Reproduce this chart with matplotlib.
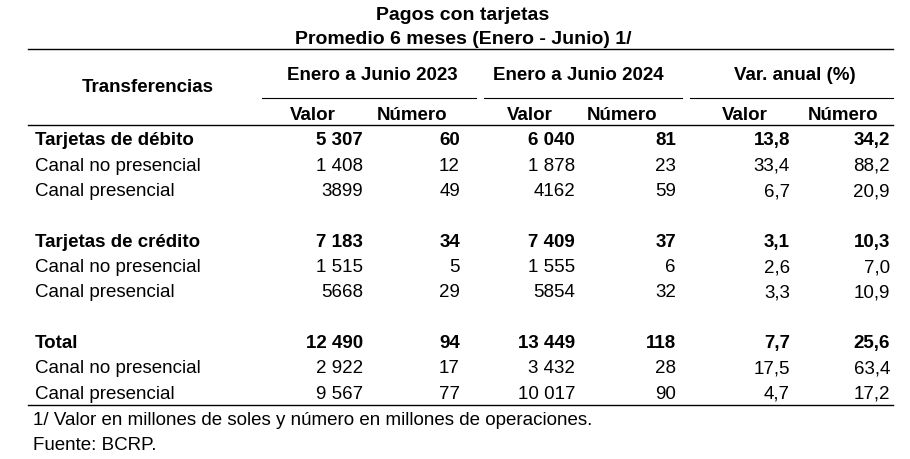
import matplotlib
matplotlib.use("Agg")
import matplotlib.pyplot as plt

title = ["Pagos con tarjetas", "Promedio 6 meses (Enero - Junio) 1/"]
groups = ["Enero a Junio 2023", "Enero a Junio 2024", "Var. anual (%)"]
subheads = ["Valor", "Número", "Valor", "Número", "Valor", "Número"]
rows = [
    ("Tarjetas de débito", ["5 307", "60", "6 040", "81", "13,8", "34,2"], True),
    ("Canal no presencial", ["1 408", "12", "1 878", "23", "33,4", "88,2"], False),
    ("Canal presencial", ["3899", "49", "4162", "59", "6,7", "20,9"], False),
    None,
    ("Tarjetas de crédito", ["7 183", "34", "7 409", "37", "3,1", "10,3"], True),
    ("Canal no presencial", ["1 515", "5", "1 555", "6", "2,6", "7,0"], False),
    ("Canal presencial", ["5668", "29", "5854", "32", "3,3", "10,9"], False),
    None,
    ("Total", ["12 490", "94", "13 449", "118", "7,7", "25,6"], True),
    ("Canal no presencial", ["2 922", "17", "3 432", "28", "17,5", "63,4"], False),
    ("Canal presencial", ["9 567", "77", "10 017", "90", "4,7", "17,2"], False),
]
notes = ["1/ Valor en millones de soles y número en millones de operaciones.", "Fuente: BCRP."]

plt.rcParams['font.family'] = ['Liberation Sans', 'DejaVu Sans']
fs = 13.5
fig = plt.figure(figsize=(9.1, 4.6), dpi=100)
ax = fig.add_axes([0, 0, 1, 1])
ax.set_xlim(0, 910); ax.set_ylim(460, 0); ax.axis('off')

ax.text(463, 16, title[0], ha='center', va='center', fontsize=14, weight='bold')
ax.text(463, 39, title[1], ha='center', va='center', fontsize=14, weight='bold')
ax.plot([28, 893], [50, 50], color='black', lw=1)
ax.text(148, 88, "Transferencias", ha='center', va='center', fontsize=fs, weight='bold')
gx = [372, 578, 795]
segs = [(262, 476), (484, 682), (690, 893)]
for g, x, s in zip(groups, gx, segs):
    ax.text(x, 76, g, ha='center', va='center', fontsize=fs, weight='bold')
    ax.plot(s, [99, 99], color='black', lw=0.8)
sx = [313, 412, 530, 622, 745, 843]
for h, x in zip(subheads, sx):
    ax.text(x, 115, h, ha='center', va='center', fontsize=fs, weight='bold')
ax.plot([28, 893], [126, 126], color='black', lw=1)

colr = [363, 460, 575, 676, 790, 890]
y = 141
for r in rows:
    if r is None:
        y += 25; continue
    lab, vals, b = r
    w = 'bold' if b else 'normal'
    ax.text(35, y, lab, ha='left', va='center', fontsize=fs, weight=w)
    for v, x in zip(vals, colr):
        ax.text(x, y, v, ha='right', va='center', fontsize=fs, weight=w)
    y += 25.4
ax.plot([28, 893], [406, 406], color='black', lw=1)
ax.text(33, 421, notes[0], ha='left', va='center', fontsize=fs)
ax.text(33, 446, notes[1], ha='left', va='center', fontsize=fs)
fig.savefig("out.png", dpi=100, facecolor='white')
